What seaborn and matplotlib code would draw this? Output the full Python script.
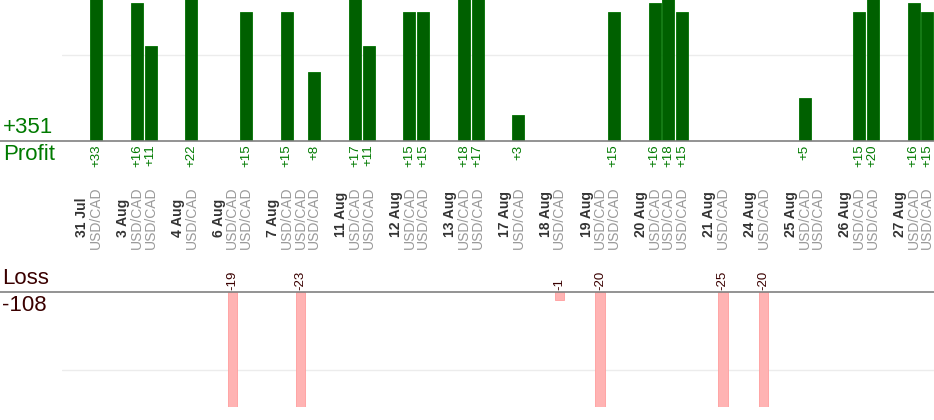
import matplotlib
matplotlib.use("Agg")
import matplotlib.pyplot as plt
import seaborn as sns
import pandas as pd

sns.set_style("white")
plt.rcParams['font.family'] = ['Liberation Sans', 'DejaVu Sans']

# trading days and the trades on each day (pips, USD/CAD)
days = ['31 Jul', '3 Aug', '4 Aug', '6 Aug', '7 Aug', '11 Aug', '12 Aug', '13 Aug',
        '17 Aug', '18 Aug', '19 Aug', '20 Aug', '21 Aug', '24 Aug', '25 Aug',
        '26 Aug', '27 Aug']
trades = [[33], [16, 11], [22], [-19, 15], [15, -23, 8], [17, 11], [15, 15], [18, 17],
          [3], [-1], [-20, 15], [16, 18, 15], [-25], [-20], [5, 0],
          [15, 20], [16, 15]]
symbol = 'USD/CAD'

GREEN = '#007a00'
LOSS_TXT = '#3a0000'

# each day takes one empty slot, one slot for the date, then one per trade
rows = []
date_slots = []
slot = 0
for day, vals in zip(days, trades):
    slot += 1
    date_slots.append(slot)
    slot += 1
    for v in vals:
        rows.append({'slot': slot, 'day': day, 'pnl': v})
        slot += 1
n_slots = slot
df = pd.DataFrame(rows)
prof = df[df.pnl > 0]
loss = df[df.pnl < 0]

fig = plt.figure(figsize=(9.34, 4.2), dpi=100)
left = 62 / 934
ax1 = fig.add_axes([left, 1 - 141 / 420, 1 - left, 141 / 420])
ax2 = fig.add_axes([left, 13 / 420, 1 - left, 115 / 420])
order = list(range(n_slots))

sns.barplot(data=prof, x='slot', y='pnl', order=order, ax=ax1, color='#006000',
            width=0.88, edgecolor='#007000', linewidth=0.6, saturation=1)
sns.barplot(data=loss, x='slot', y='pnl', order=order, ax=ax2, color='#ffb3b3',
            width=0.7, edgecolor='#ff9d9d', linewidth=0.6, saturation=1)

ax1.set_ylim(0, 16.4)
ax2.set_ylim(-14.7, 0)
for ax, tick in ((ax1, 10), (ax2, -10)):
    ax.set_xlim(-0.5, n_slots - 0.5)
    ax.set_yticks([tick])
    ax.set_xticks([])
    ax.yaxis.grid(True, color='#ececec', lw=1)
    ax.tick_params(left=False, labelleft=False)
    ax.set_xlabel('')
    ax.set_ylabel('')
    sns.despine(ax=ax, left=True, bottom=True, top=True, right=True)
    ax.axhline(0, color='#808080', lw=1.2, xmin=-left / (1 - left), xmax=1, clip_on=False)
    ax.set_facecolor('none')

# value labels
for s, v in zip(prof.slot, prof.pnl):
    ax1.annotate(f'+{v}', (s, 0), xytext=(0, -2.5), textcoords='offset points',
                 rotation=90, ha='center', va='top', color=GREEN, fontsize=9.5,
                 annotation_clip=False)
for s, v in zip(loss.slot, loss.pnl):
    ax2.annotate(f'{v}', (s, 0), xytext=(0, 1.5), textcoords='offset points',
                 rotation=90, ha='center', va='bottom', color=LOSS_TXT, fontsize=9.5,
                 annotation_clip=False)

# day and symbol labels
for s, day in zip(date_slots, days):
    ax1.annotate(day, (s, 0), xytext=(0, -96 * 0.72), textcoords='offset points',
                 rotation=90, ha='center', va='bottom', color='#333333', fontsize=10,
                 fontweight='bold', annotation_clip=False)
for s in df.slot:
    ax1.annotate(symbol, (s, 0), xytext=(0, -108 * 0.72), textcoords='offset points',
                 rotation=90, ha='center', va='bottom', color='#999999', fontsize=10,
                 annotation_clip=False)

# totals
fig.text(3 / 934, 1 - 138 / 420, f'+{prof.pnl.sum()}', color=GREEN, fontsize=16,
         va='bottom', ha='left')
fig.text(3 / 934, 1 - 144 / 420, 'Profit', color=GREEN, fontsize=16, va='top', ha='left')
fig.text(2 / 934, 1 - 289 / 420, 'Loss', color=LOSS_TXT, fontsize=16, va='bottom', ha='left',
         family=['Liberation Sans Narrow', 'Liberation Sans'])
fig.text(2 / 934, 1 - 295 / 420, f'{loss.pnl.sum()}', color=LOSS_TXT, fontsize=16,
         va='top', ha='left', family=['Liberation Sans Narrow', 'Liberation Sans'])

fig.savefig('out.png', dpi=100)
